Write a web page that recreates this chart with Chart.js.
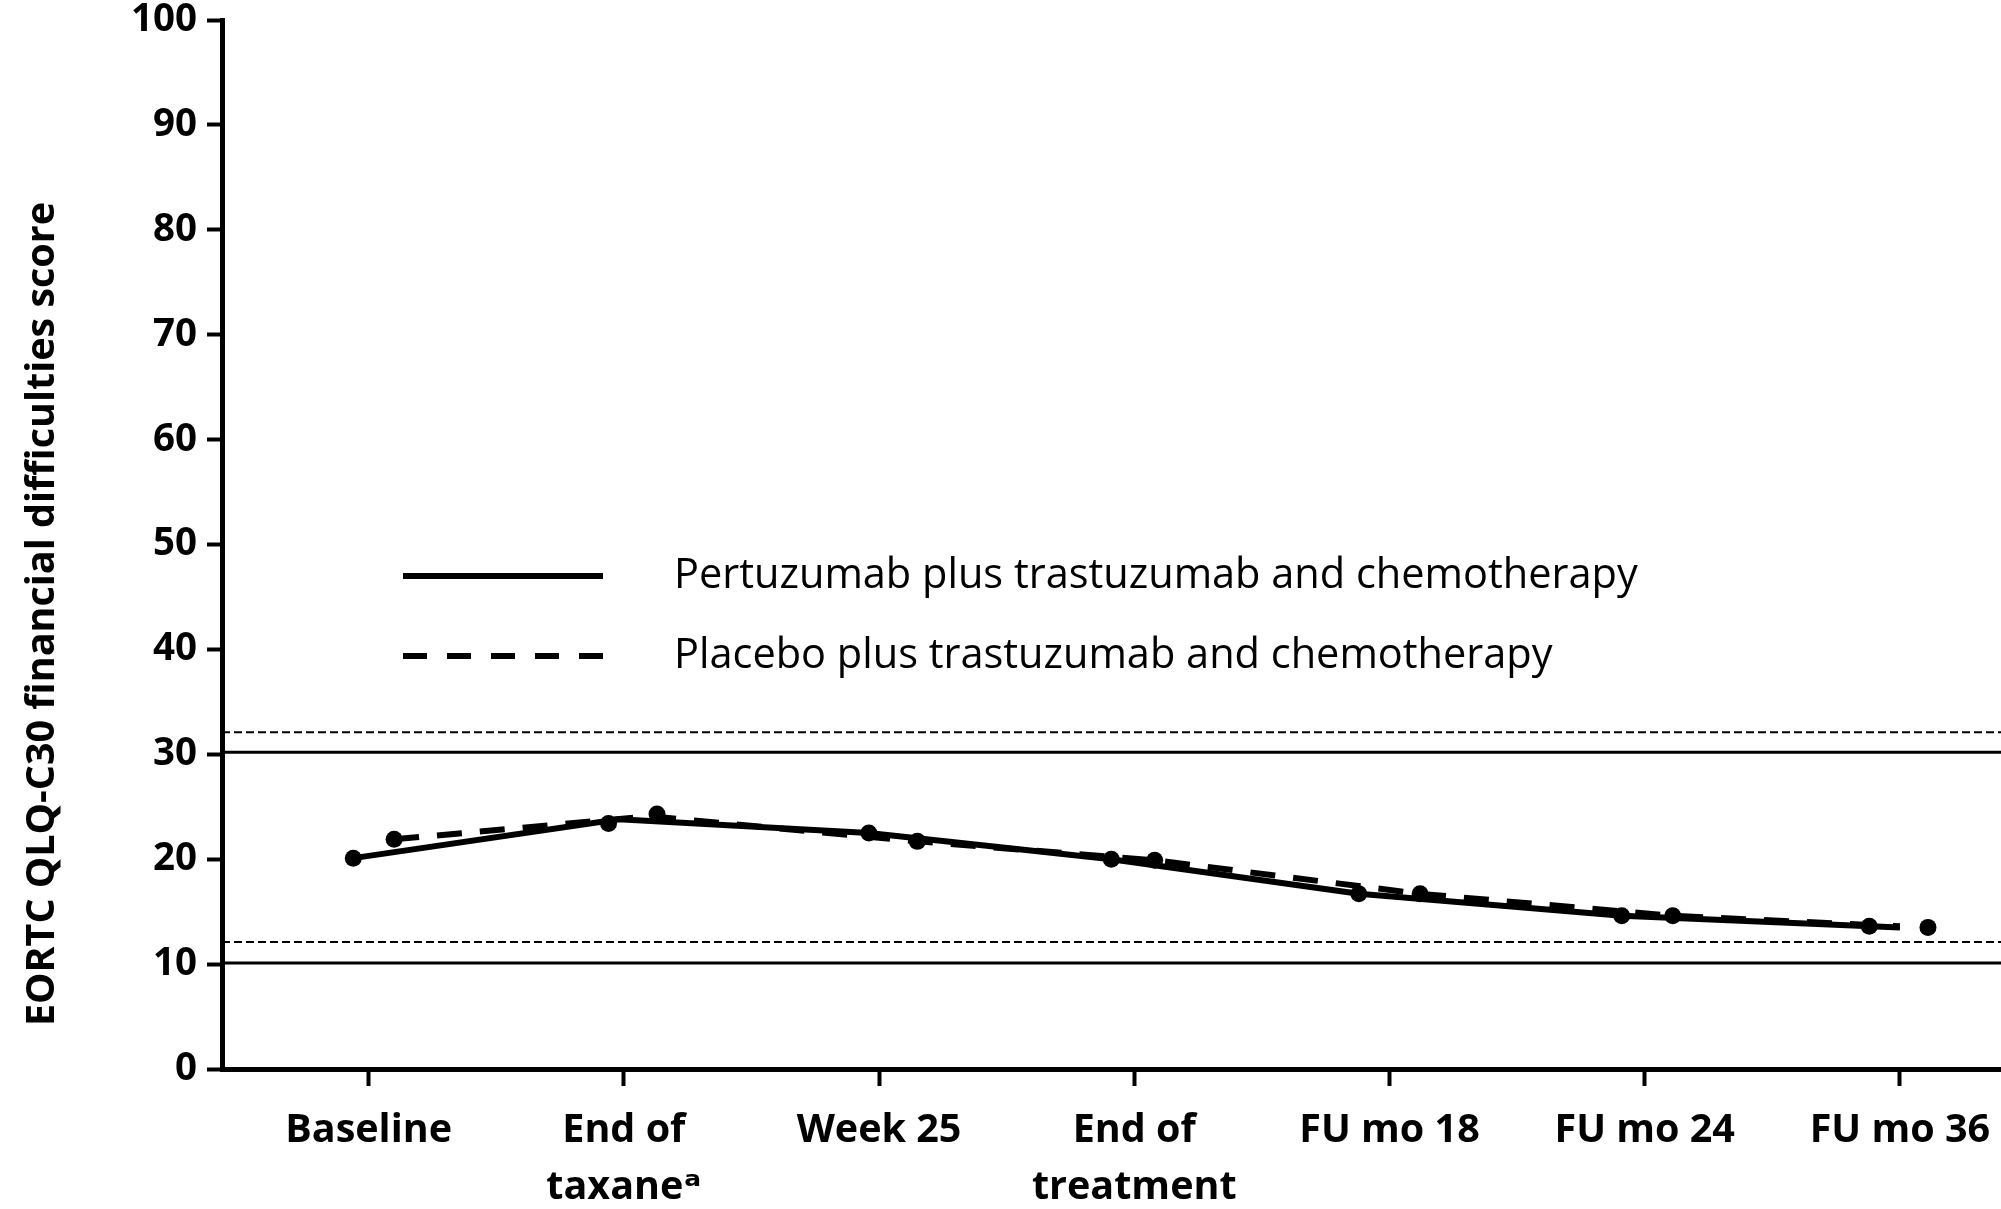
<!DOCTYPE html>
<html>
<head>
<meta charset="utf-8">
<title>EORTC QLQ-C30 financial difficulties</title>
<script src="https://cdn.jsdelivr.net/npm/chart.js@4.4.1/dist/chart.umd.min.js"></script>
<style>
  html, body { margin: 0; padding: 0; background: #fff; overflow: hidden; }
  #wrap { position: relative; width: 2001px; height: 1209px; overflow: hidden; }
  #finChart { position: absolute; left: 0; top: 0; }
</style>
</head>
<body>
<div id="wrap"><canvas id="finChart" width="2011" height="1209"></canvas></div>
<script>
// categories along the x axis
const timepoints = ['Baseline', ['End of', 'taxane\u1D43'], 'Week 25', ['End of', 'treatment'], 'FU mo 18', 'FU mo 24', 'FU mo 36'];

const seriesNames = ['Pertuzumab plus trastuzumab and chemotherapy', 'Placebo plus trastuzumab and chemotherapy'];

// mean scores; x is the category index, nudged left/right as in the figure
const pertuzumabX = [-0.06, 0.94, 1.96, 2.91, 3.88, 4.91, 5.88];
const pertuzumabY = [20.1, 23.4, 22.5, 20.0, 16.7, 14.6, 13.6];
const placeboX = [0.10, 1.13, 2.15, 3.08, 4.12, 5.11, 6.11];
const placeboY = [21.9, 24.3, 21.7, 19.9, 16.7, 14.6, 13.5];

// connecting lines (vertices)
const pertuzumabLineX = [-0.06, 0.98, 1.96, 2.91, 3.88, 4.91, 6.0];
const pertuzumabLineY = [20.1, 23.8, 22.5, 20.0, 16.7, 14.6, 13.5];
const placeboLineX = [0.10, 1.10, 2.15, 3.08, 4.12, 5.11, 6.0];
const placeboLineY = [21.9, 24.1, 21.7, 19.9, 16.7, 14.6, 13.6];

// horizontal reference lines
const refSolid = [30.2, 10.1];
const refDashed = [32.1, 12.1];

const FONT = "'Open Sans', 'DejaVu Sans', sans-serif";
Chart.defaults.font.family = FONT;
Chart.defaults.color = '#000';

const toPoints = (xs, ys) => xs.map((x, i) => ({ x: x, y: ys[i] }));

const refLinesPlugin = {
  id: 'refLines',
  beforeDatasetsDraw(chart) {
    const { ctx, chartArea, scales } = chart;
    ctx.save();
    ctx.strokeStyle = '#000';
    const draw = (v, dash, w) => {
      const y = scales.y.getPixelForValue(v);
      ctx.lineWidth = w;
      ctx.setLineDash(dash);
      ctx.beginPath();
      ctx.moveTo(chartArea.left, y);
      ctx.lineTo(chartArea.right, y);
      ctx.stroke();
    };
    refSolid.forEach(v => draw(v, [], 3));
    refDashed.forEach(v => draw(v, [8, 4], 2));
    ctx.restore();
  }
};

const legendPlugin = {
  id: 'lineLegend',
  afterDraw(chart) {
    const ctx = chart.ctx;
    const rows = [
      { label: seriesNames[0], dash: [], y: 576 },
      { label: seriesNames[1], dash: [24, 20], y: 656 }
    ];
    ctx.save();
    rows.forEach(r => {
      ctx.strokeStyle = '#000';
      ctx.lineWidth = 6;
      ctx.setLineDash(r.dash);
      ctx.beginPath();
      ctx.moveTo(403, r.y);
      ctx.lineTo(603, r.y);
      ctx.stroke();
      ctx.fillStyle = '#000';
      ctx.font = '41.5px ' + FONT;
      ctx.textBaseline = 'middle';
      ctx.fillText(r.label, 674, r.y);
    });
    ctx.restore();
  }
};

const yTitlePlugin = {
  id: 'yTitle',
  afterDraw(chart) {
    const ctx = chart.ctx;
    ctx.save();
    ctx.translate(43, 614);
    ctx.rotate(-Math.PI / 2);
    ctx.fillStyle = '#000';
    ctx.font = 'bold 39.5px ' + FONT;
    ctx.textAlign = 'center';
    ctx.textBaseline = 'middle';
    ctx.fillText('EORTC QLQ-C30 financial difficulties score', 0, 0);
    ctx.restore();
  }
};

new Chart(document.getElementById('finChart'), {
  type: 'scatter',
  data: {
    datasets: [
      {
        label: seriesNames[0] + ' points',
        data: toPoints(pertuzumabX, pertuzumabY),
        pointRadius: 8.5, pointBackgroundColor: '#000', pointBorderWidth: 0,
        showLine: false, order: 0
      },
      {
        label: seriesNames[1] + ' points',
        data: toPoints(placeboX, placeboY),
        pointRadius: 8.5, pointBackgroundColor: '#000', pointBorderWidth: 0,
        showLine: false, order: 0
      },
      {
        label: seriesNames[0],
        data: toPoints(pertuzumabLineX, pertuzumabLineY),
        showLine: true, pointRadius: 0, borderColor: '#000', borderWidth: 6,
        borderCapStyle: 'butt', tension: 0, order: 1
      },
      {
        label: seriesNames[1],
        data: toPoints(placeboLineX, placeboLineY),
        showLine: true, pointRadius: 0, borderColor: '#000', borderWidth: 6,
        borderDash: [25, 18], borderCapStyle: 'butt', tension: 0, order: 1
      }
    ]
  },
  options: {
    responsive: false,
    devicePixelRatio: 1,
    animation: false,
    layout: { padding: { top: 20, right: 0, bottom: 0, left: 0 } },
    plugins: {
      legend: { display: false },
      tooltip: { enabled: false }
    },
    scales: {
      x: {
        type: 'linear',
        min: -0.5745,
        max: 6.402,
        afterBuildTicks: s => { s.ticks = timepoints.map((_, i) => ({ value: i })); },
        afterFit: s => { s.height = 140; s.paddingLeft = 0; s.paddingRight = 0; },
        ticks: {
          autoSkip: false, maxRotation: 0, minRotation: 0,
          callback: v => timepoints[v],
          color: '#000',
          font: { size: 39.5, weight: 'bold', lineHeight: 1.45 },
          padding: 16
        },
        grid: { drawOnChartArea: false, tickLength: 17, tickWidth: 4, tickColor: '#000' },
        border: { display: true, color: '#000', width: 5 }
      },
      y: {
        min: 0,
        max: 100,
        afterFit: s => { s.width = 222; s.paddingTop = 0; s.paddingBottom = 0; },
        ticks: {
          stepSize: 10,
          color: '#000',
          font: { size: 38.5, weight: 'bold' },
          padding: 10
        },
        grid: { drawOnChartArea: false, tickLength: 15, tickWidth: 4, tickColor: '#000' },
        border: { display: true, color: '#000', width: 5 }
      }
    }
  },
  plugins: [refLinesPlugin, legendPlugin, yTitlePlugin]
});
</script>
</body>
</html>
